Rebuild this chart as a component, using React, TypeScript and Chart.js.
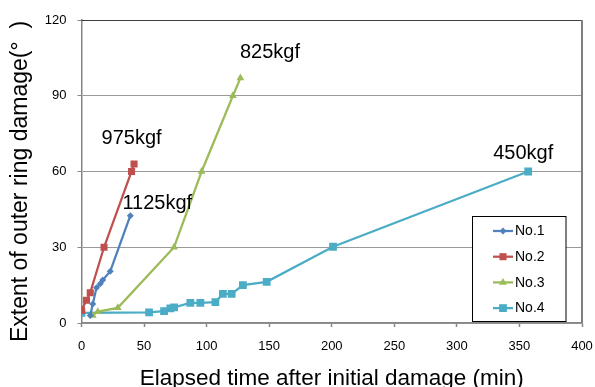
import React, { useEffect, useRef } from 'react';
import { Chart, registerables } from 'chart.js';
import { drawPoint } from 'chart.js/helpers';

Chart.register(...registerables);

// ---- data ----
const seriesNames = ['No.1', 'No.2', 'No.3', 'No.4'];

const no1Time = [7, 9, 12, 15, 17, 23, 39];
const no1Damage = [3, 7.5, 14, 15.5, 17, 20.5, 42.5];

const no2Time = [0, 4, 7, 18, 40, 42];
const no2Damage = [5, 9, 12, 30, 60, 63];

const no3Time = [9, 13, 29, 74, 96, 121, 127];
const no3Damage = [3, 4.5, 6, 30, 60, 90, 97];

const no4Time = [0, 54, 66, 71, 74, 87, 95, 107, 113, 120, 129, 148, 201, 357];
const no4Damage = [4, 4.2, 4.7, 5.8, 6.2, 8, 8, 8.3, 11.5, 11.5, 15, 16.3, 30.2, 60];

const xTicks = [0, 50, 100, 150, 200, 250, 300, 350, 400];
const yTicks = [0, 30, 60, 90, 120];

const loadLabels = ['975kgf', '825kgf', '1125kgf', '450kgf'];
const loadLabelTime = [16, 126.6, 32.7, 329];
const loadLabelDamage = [71, 105, 45.3, 64.8];

const xTitle = 'Elapsed time after initial damage (min)';
const yTitle = 'Extent of outer ring damage(°  )';

const FONT = "'Liberation Sans', Arial, sans-serif";

const toPoints = (xs: number[], ys: number[]) => xs.map((x, i) => ({ x, y: ys[i] }));

const colors = ['#4F81BD', '#C0504D', '#9BBB59', '#4BACC6'];
const styles = ['rectRot', 'rect', 'triangle', 'rect'];
const radii = [3.5, 5, 4.5, 5.5];

const extrasPlugin = {
  id: 'extras',
  afterDraw(chart: any) {
    const ctx = chart.ctx;
    const area = chart.chartArea;
    const xs = chart.scales.x;
    const ys = chart.scales.y;
    ctx.save();
    // plot-area border (top + right)
    ctx.strokeStyle = '#404040';
    ctx.lineWidth = 1;
    ctx.beginPath();
    ctx.moveTo(area.left, Math.round(area.top) + 0.5);
    ctx.lineTo(area.right, Math.round(area.top) + 0.5);
    ctx.stroke();
    ctx.strokeStyle = '#7f7f7f';
    ctx.lineWidth = 2;
    ctx.beginPath();
    ctx.moveTo(area.right, area.top);
    ctx.lineTo(area.right, area.bottom);
    ctx.stroke();

    // load annotations
    ctx.fillStyle = '#000';
    ctx.font = `20px ${FONT}`;
    ctx.textAlign = 'left';
    ctx.textBaseline = 'alphabetic';
    loadLabels.forEach((t, i) => {
      ctx.fillText(t, xs.getPixelForValue(loadLabelTime[i]), ys.getPixelForValue(loadLabelDamage[i]));
    });

    // y title
    ctx.save();
    ctx.translate(20.5, (area.top + area.bottom) / 2 + 10);
    ctx.rotate(-Math.PI / 2);
    ctx.font = `23px ${FONT}`;
    ctx.textAlign = 'center';
    ctx.textBaseline = 'middle';
    ctx.fillStyle = '#000';
    ctx.fillText(yTitle, 0, 0);
    ctx.restore();

    // legend box
    const bx = area.right - 109.5;
    const by = area.bottom - 106.5;
    const bw = 93.5;
    const bh = 105;
    ctx.fillStyle = '#fff';
    ctx.fillRect(bx, by, bw, bh);
    ctx.strokeStyle = '#000';
    ctx.lineWidth = 1;
    ctx.strokeRect(bx, by, bw, bh);
    seriesNames.forEach((name, i) => {
      const cy = by + 14.5 + i * 25.7;
      const lx0 = bx + 20.5;
      const lx1 = bx + 40.5;
      ctx.strokeStyle = colors[i];
      ctx.lineWidth = 2.25;
      ctx.beginPath();
      ctx.moveTo(lx0, cy);
      ctx.lineTo(lx1, cy);
      ctx.stroke();
      ctx.fillStyle = colors[i];
      drawPoint(ctx, { pointStyle: styles[i], radius: radii[i], rotation: 0, borderWidth: 0 } as any, (lx0 + lx1) / 2, cy);
      ctx.fillStyle = '#000';
      ctx.font = `14px ${FONT}`;
      ctx.textAlign = 'left';
      ctx.textBaseline = 'middle';
      ctx.fillText(name, lx1 + 2, cy + 0.5);
    });
    ctx.restore();
  },
};

export default function App() {
  const ref = useRef<HTMLCanvasElement | null>(null);
  useEffect(() => {
    if (!ref.current) return;
    const times = [no1Time, no2Time, no3Time, no4Time];
    const damages = [no1Damage, no2Damage, no3Damage, no4Damage];
    const chart = new Chart(ref.current, {
      type: 'scatter',
      data: {
        datasets: seriesNames.map((name, i) => ({
          label: name,
          data: toPoints(times[i], damages[i]),
          showLine: true,
          borderColor: colors[i],
          backgroundColor: colors[i],
          borderWidth: 2.25,
          pointStyle: styles[i] as any,
          pointRadius: radii[i],
          pointBorderWidth: 0,
          pointBackgroundColor: colors[i],
          tension: 0,
        })),
      },
      options: {
        animation: false,
        responsive: false,
        devicePixelRatio: 1,
        layout: { padding: { top: 20, right: 13, left: 0, bottom: 0 } },
        plugins: { legend: { display: false }, tooltip: { enabled: false } },
        scales: {
          x: {
            type: 'linear',
            min: 0,
            max: 400,
            afterBuildTicks: (s: any) => { s.ticks = xTicks.map((v) => ({ value: v })); },
            afterFit: (s: any) => { s.height = 64; s.paddingRight = 0; s.paddingLeft = 0; },
            ticks: { font: { family: FONT, size: 13 }, color: '#000', padding: 12 },
            grid: { drawOnChartArea: false, drawTicks: true, tickLength: 4, tickColor: '#868686', tickWidth: 1.5 },
            border: { color: '#868686', width: 1.5 },
            title: {
              display: true,
              text: xTitle,
              color: '#000',
              font: { family: FONT, size: 22.5, lineHeight: 0.75 },
              padding: { top: 0, bottom: 0 },
            },
          },
          y: {
            type: 'linear',
            min: 0,
            max: 120,
            afterBuildTicks: (s: any) => { s.ticks = yTicks.map((v) => ({ value: v })); },
            afterFit: (s: any) => { s.width = 81.5; s.paddingTop = 0; s.paddingBottom = 0; },
            ticks: { font: { family: FONT, size: 13 }, color: '#000', padding: 11 },
            grid: { color: '#9a9a9a', lineWidth: 1, drawTicks: true, tickLength: 4, tickColor: '#868686' },
            border: { color: '#868686', width: 1.5 },
          },
        },
      },
      plugins: [extrasPlugin],
    });
    return () => chart.destroy();
  }, []);
  return (
    <div style={{ position: 'fixed', left: 0, top: 0, width: 595, height: 387, background: '#fff' }}>
      <canvas ref={ref} width={595} height={387} style={{ display: 'block' }} />
    </div>
  );
}
